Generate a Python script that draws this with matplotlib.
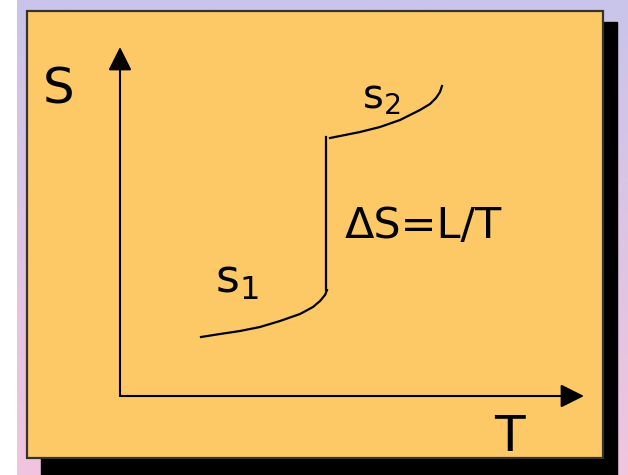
import numpy as np
import matplotlib
matplotlib.use("Agg")
import matplotlib.pyplot as plt
from matplotlib.patches import Rectangle

# curve data (T, S) in chart units, origin where the axes cross
s1_T = [81, 100, 120, 140, 160, 180, 193, 200, 205, 207]
s1_S = [59, 62, 65, 69, 75, 82, 89, 95, 101, 106]
jump_T = [206, 206]
jump_S = [106, 259]
s2_T = [210, 225, 240, 260, 280, 300, 310, 316, 320, 322]
s2_S = [258, 261, 264, 269, 276, 286, 292, 298, 304, 310]

W, H = 628, 475
fig = plt.figure(figsize=(W / 100, H / 100), dpi=100)

# page background in pixel coords
bg = fig.add_axes([0, 0, 1, 1])
bg.set_xlim(0, W)
bg.set_ylim(H, 0)
bg.axis("off")
top = np.array([201, 196, 234]) / 255
bot = np.array([241, 196, 222]) / 255
t = np.linspace(0, 1, 200)[:, None]
grad = (top * (1 - t) + bot * t)[:, None, :]
bg.imshow(grad, extent=[17, W, H, 0], aspect="auto", zorder=0)
bg.add_patch(Rectangle((41, 22), 576, 460, color="black", zorder=1))
bg.add_patch(Rectangle((27, 11), 576, 447, facecolor="#fdc966",
                       edgecolor="#333333", lw=1.6, zorder=2))

# chart axes: origin at pixel (120, 396)
x0, y0, x1, y1 = 120, 396, 584, 47
ax = fig.add_axes([x0 / W, (H - y0) / H, (x1 - x0) / W, (y0 - y1) / H])
ax.set_xlim(0, x1 - x0)
ax.set_ylim(0, y0 - y1)
ax.axis("off")
ax.patch.set_alpha(0)

arrow = dict(arrowstyle="-|>", mutation_scale=36, lw=1.5, color="black",
             shrinkA=0, shrinkB=0)
ax.annotate("", xy=(0, y0 - y1), xytext=(0, 0), arrowprops=arrow,
            annotation_clip=False)
ax.annotate("", xy=(x1 - x0, 0), xytext=(0, 0), arrowprops=arrow,
            annotation_clip=False)

ax.plot(s1_T, s1_S, color="black", lw=1.6, clip_on=False)
ax.plot(jump_T, jump_S, color="black", lw=1.6, clip_on=False)
ax.plot(s2_T, s2_S, color="black", lw=1.6, clip_on=False)

ax.text(-61, 306, "S", fontsize=36, ha="center", va="center")
ax.text(389, -41, "T", fontsize=36, ha="center", va="center")
ax.text(225, 170, "ΔS=L/T", fontsize=31, ha="left", va="center")
ax.text(95, 104, r"$\mathregular{s_1}$", fontsize=33, ha="left", va="baseline")
ax.text(242, 288, r"$\mathregular{s_2}$", fontsize=29, ha="left", va="baseline")

fig.savefig("out.png", dpi=100)
